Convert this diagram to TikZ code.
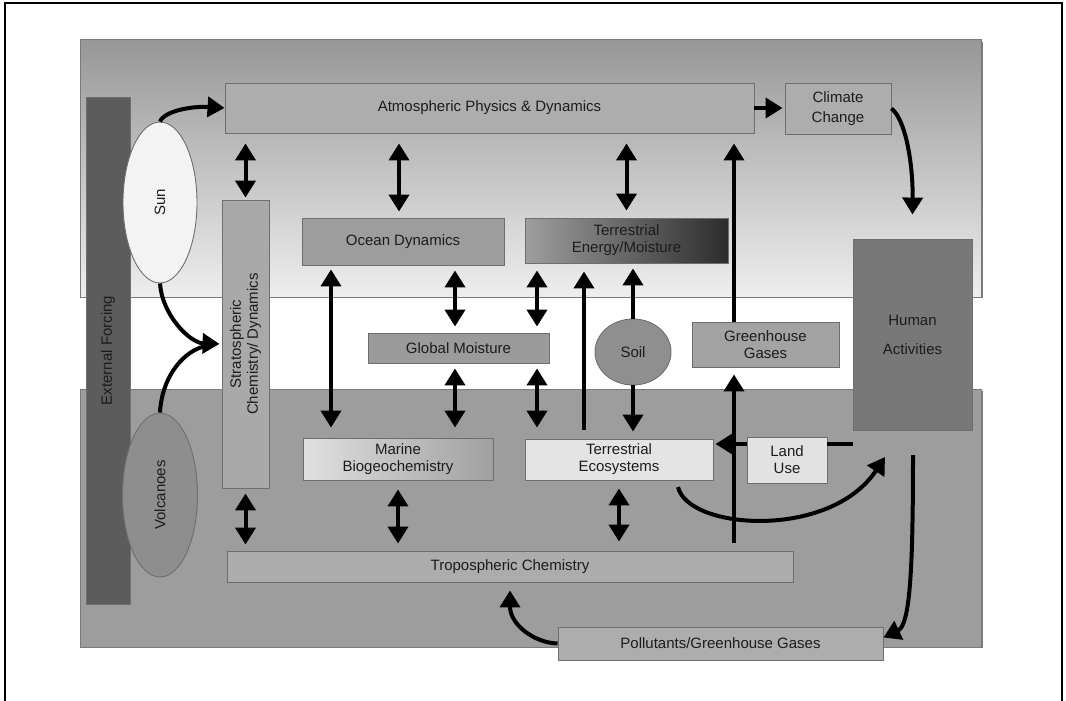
\documentclass[tikz,border=0pt]{standalone}
\usepackage{fontspec}
\setmainfont{Liberation Sans}
\usetikzlibrary{arrows.meta,shapes.geometric}
\definecolor{extf}{HTML}{5C5C5C}
\definecolor{sunc}{HTML}{F3F3F3}
\definecolor{volc}{HTML}{8E8E8E}
\definecolor{stratc}{HTML}{A9A9A9}
\definecolor{atmoc}{HTML}{ADADAD}
\definecolor{oceanc}{HTML}{9D9D9D}
\definecolor{gmc}{HTML}{9B9B9B}
\definecolor{soilc}{HTML}{8F8F8F}
\definecolor{ggc}{HTML}{A3A3A3}
\definecolor{hac}{HTML}{787878}
\definecolor{tec}{HTML}{E4E4E4}
\definecolor{luc}{HTML}{E2E2E2}
\definecolor{tropoc}{HTML}{ACACAC}
\definecolor{pollc}{HTML}{ADADAD}
\definecolor{botc}{HTML}{9D9D9D}
\definecolor{toptop}{HTML}{979797}
\definecolor{topmid}{HTML}{D2D2D2}
\definecolor{topbot}{HTML}{EEEEEE}
\definecolor{temL}{HTML}{9E9E9E}
\definecolor{temM}{HTML}{8C8C8C}
\definecolor{temR}{HTML}{2C2C2C}
\definecolor{marL}{HTML}{E0E0E0}
\definecolor{marR}{HTML}{A0A0A0}
\definecolor{boxline}{HTML}{6E6E6E}
\definecolor{panelline}{HTML}{7A7A7A}
\definecolor{shadowc}{HTML}{7C7C7C}
\definecolor{txt}{HTML}{1C1C1C}
\begin{document}
\begin{tikzpicture}[x=1pt,y=-1pt,
  >={Triangle[width=20pt,length=17pt]},
  arr/.style={line width=4pt,->},
  dbl/.style={line width=4pt,<->},
  plainline/.style={line width=4pt},
  box/.style={draw=boxline, line width=0.9pt, rectangle, inner sep=0pt,
    font=\fontsize{15}{17}\selectfont, text=txt, align=center},
  oval/.style={draw=boxline, line width=0.9pt, ellipse, inner sep=0pt,
    font=\fontsize{15}{17}\selectfont, text=txt, align=center},
  lbl/.style={font=\fontsize{15}{17}\selectfont, text=txt, align=center, inner sep=0pt}
]
\useasboundingbox (0,0) rectangle (1066,701);
% frame
\draw[line width=1.3pt] (5,701) -- (5,3) -- (1062,3) -- (1062,701);
% panel
\fill[shadowc] (82,42) rectangle (983,298);
\shade[top color=toptop, middle color=topmid, bottom color=topbot] (80,40) rectangle (981,297);
\draw[panelline, line width=1pt] (80,40) rectangle (981,297);
\fill[shadowc] (82,391) rectangle (983,648);
\fill[botc] (80,389) rectangle (981,647);
\draw[panelline, line width=1pt] (80,389) rectangle (981,647);

% nodes
\node[box, fill=extf, minimum width=44pt, minimum height=507pt,
  label={[lbl,rotate=90]center:External Forcing}] (ext) at (108,350.5) {};
\node[oval, fill=sunc, minimum width=74pt, minimum height=161pt,
  label={[lbl,rotate=90]center:Sun}] (sun) at (160,202.5) {};
\node[oval, fill=volc, minimum width=75pt, minimum height=164pt,
  label={[lbl,rotate=90]center:Volcanoes}] (volc) at (160,495) {};
\node[box, fill=stratc, minimum width=47pt, minimum height=288pt,
  label={[lbl,rotate=90]center:{Stratospheric\\Chemistry/ Dynamics}}] (strat) at (245.5,344) {};
\node[box, fill=atmoc, minimum width=529pt, minimum height=50pt] (atmo) at (489.5,108) {Atmospheric Physics \& Dynamics};
\node[box, fill=atmoc, minimum width=106pt, minimum height=51pt] (climate) at (838,108.5) {Climate\\[3pt]Change};
\node[box, fill=oceanc, minimum width=202pt, minimum height=47pt] (ocean) at (403,241.5) {Ocean Dynamics};
\node[box, left color=temL, middle color=temM, right color=temR, minimum width=203pt, minimum height=45pt] (tem) at (626.5,240.5) {Terrestrial\\Energy/Moisture};
\node[box, fill=gmc, minimum width=181pt, minimum height=30pt] (gm) at (458.5,348) {Global Moisture};
\node[oval, fill=soilc, minimum width=76pt, minimum height=66pt] (soil) at (633,352) {Soil};
\node[box, fill=ggc, minimum width=147pt, minimum height=45pt] (gg) at (765.5,344.5) {Greenhouse\\Gases};
\node[box, fill=hac, minimum width=119pt, minimum height=191pt] (ha) at (912.5,334.5) {Human\\[12pt]Activities};
\node[box, left color=marL, right color=marR, minimum width=190pt, minimum height=42pt] (marine) at (398,459) {Marine\\Biogeochemistry};
\node[box, fill=tec, minimum width=188pt, minimum height=41pt] (te) at (619,459.5) {Terrestrial\\Ecosystems};
\node[box, fill=luc, minimum width=80pt, minimum height=46pt] (lu) at (787,460) {Land\\Use};
\node[box, fill=tropoc, minimum width=566pt, minimum height=31pt] (tropo) at (510,566.5) {Tropospheric Chemistry};
\node[box, fill=pollc, minimum width=325pt, minimum height=33pt] (poll) at (720.5,643.5) {Pollutants/Greenhouse Gases};

% helper coordinates
\coordinate (c331) at (331,0);
\coordinate (c399) at (399,0);
\coordinate (c455) at (455,0);
\coordinate (c537) at (537,0);
\coordinate (c584) at (584,0);
\coordinate (c734) at (734,0);
\coordinate (row444) at (0,444);
\coordinate (teout) at (678,487);
\coordinate (hain) at (885,457);
\coordinate (haout) at (913,455);
\coordinate (merge) at (206,346);

% connectors
\draw[arr] (sun.north) .. controls (165,110) and (195,106) .. (atmo.west);
\draw[arr, shorten >=2pt] (sun.south) .. controls (162,315) and (190,343) .. (strat.west);
\draw[plainline] (volc.north) .. controls (162,375) and (185,350) .. (merge);
\draw[dbl, shorten <=10pt, shorten >=2pt] (strat.north |- atmo.south) -- (strat.north);
\draw[dbl, shorten <=10pt, shorten >=6pt] (c399 |- atmo.south) -- (c399 |- ocean.north);
\draw[dbl, shorten <=10pt, shorten >=7pt] (tem.north |- atmo.south) -- (tem.north);
\draw[arr, shorten >=2pt] (atmo.east) -- (climate.west |- atmo.east);
\draw[arr] (climate.east) .. controls (906,120) and (913,165) .. ([yshift=24pt]ha.north);
\draw[arr, shorten >=10pt] (c734 |- gg.north) -- (c734 |- atmo.south);
\draw[arr, shorten <=8pt, shorten >=7pt] (c734 |- tropo.north) -- (c734 |- gg.south);
\draw[dbl, shorten <=4pt, shorten >=10pt] (c331 |- ocean.south) -- (c331 |- marine.north);
\draw[dbl, shorten <=5pt, shorten >=6pt] (c455 |- ocean.south) -- (c455 |- gm.north);
\draw[dbl, shorten <=7pt, shorten >=6pt] (c537 |- tem.south) -- (c537 |- gm.north);
\draw[arr, shorten <=9pt, shorten >=8pt] (c584 |- te.north) -- (c584 |- tem.south);
\draw[arr, shorten >=5pt] (soil.north) -- (soil.north |- tem.south);
\draw[arr, shorten >=7pt] (soil.south) -- (soil.south |- te.north);
\draw[dbl, shorten <=5pt, shorten >=10pt] (c455 |- gm.south) -- (c455 |- marine.north);
\draw[dbl, shorten <=5pt, shorten >=11pt] (c537 |- gm.south) -- (c537 |- te.north);
\draw[dbl, shorten <=5pt, shorten >=6pt] (strat.south) -- (strat.south |- tropo.north);
\draw[dbl, shorten <=9pt, shorten >=7pt] (marine.south) -- (marine.south |- tropo.north);
\draw[dbl, shorten <=8pt, shorten >=9pt] (te.south) -- (te.south |- tropo.north);
\draw[plainline] (ha.south west |- row444) -- (lu.east |- row444);
\draw[arr, shorten >=2pt] (lu.west |- row444) -- (te.east |- row444);
\draw[arr] (teout) .. controls (688,530) and (830,540) .. (hain);
\draw[arr] (haout) .. controls (913,570) and (910,625) .. ([yshift=6pt]poll.east);
\draw[arr, shorten >=8pt] (poll.west) .. controls (535,643) and (510,625) .. (tropo.south);
\end{tikzpicture}
\end{document}
